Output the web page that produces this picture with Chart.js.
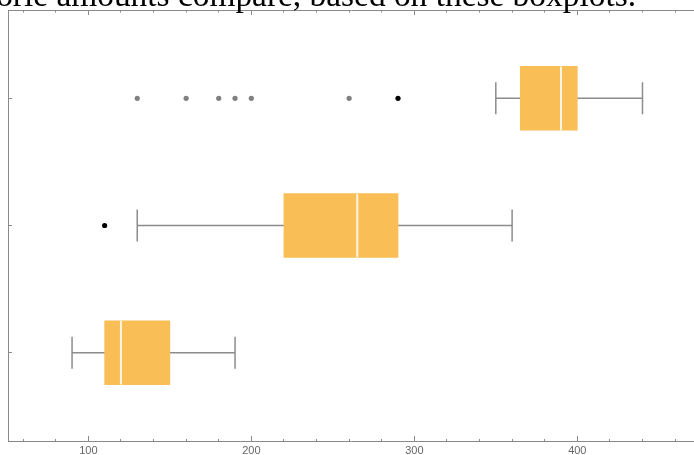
<!DOCTYPE html>
<html>
<head>
<meta charset="utf-8">
<script src="https://cdn.jsdelivr.net/npm/chart.js@4"></script>
<style>
  body { margin: 0; background: #fff; }
  #wrap { position: relative; width: 694px; height: 455px; overflow: hidden; }
  #chart { position: absolute; left: 0; top: 0; }
  #title {
    position: absolute; right: 58px; top: -22px; white-space: nowrap;
    font-family: "Liberation Serif", serif; font-size: 33.4px; line-height: 33.4px; color: #000;
  }
</style>
</head>
<body>
<div id="wrap">
  <canvas id="chart" width="694" height="455"></canvas>
  <div id="title">How do the calorie amounts compare, based on these boxplots.</div>
</div>
<script>
// one box per group, bottom to top
let groups = [1, 2, 3];
let whiskerLow = [90, 130, 350];
let q1 = [110, 220, 365];
let medians = [120, 265, 390];
let q3 = [150, 290, 400];
let whiskerHigh = [190, 360, 440];
let nearOutliers = [[], [110], [290]];
let farOutliers = [[], [], [130, 160, 180, 190, 200, 260]];
let xTickLabels = [100, 200, 300, 400];

let boxColor = "#f9be55";
let lineGray = "#8c8c8c";
let axisGray = "#8a8a8a";

function points(values) {
    let out = [];
    groups.forEach((g, i) => values[i].forEach(v => out.push({ x: v, y: g })));
    return out;
}

let datasets = [];

// boxes (q1..q3)
datasets.push({
    type: "bar",
    indexAxis: "y",
    data: groups.map((g, i) => ({ x: [q1[i], q3[i]], y: g })),
    backgroundColor: boxColor,
    borderWidth: 0,
    barThickness: 64,
    order: 2
});

// whisker lines, drawn under the boxes
groups.forEach((g, i) => {
    datasets.push({
        type: "line",
        data: [{ x: whiskerLow[i], y: g }, { x: whiskerHigh[i], y: g }],
        borderColor: lineGray,
        borderWidth: 1.5,
        pointRadius: 0,
        order: 3
    });
});

// whisker caps
datasets.push({
    type: "scatter",
    data: points(groups.map((g, i) => [whiskerLow[i], whiskerHigh[i]])),
    pointStyle: "line",
    pointRotation: 90,
    pointRadius: 16,
    pointBorderColor: lineGray,
    pointBorderWidth: 1.5,
    order: 3
});

// medians
datasets.push({
    type: "scatter",
    data: points(groups.map((g, i) => [medians[i]])),
    pointStyle: "line",
    pointRotation: 90,
    pointRadius: 31.8,
    pointBorderColor: "rgba(255,248,235,0.95)",
    pointBorderWidth: 2,
    order: 0
});

// outliers
datasets.push({
    type: "scatter",
    data: points(farOutliers),
    pointRadius: 2.6,
    pointBackgroundColor: "#808080",
    pointBorderWidth: 0,
    order: 0
});
datasets.push({
    type: "scatter",
    data: points(nearOutliers),
    pointRadius: 2.6,
    pointBackgroundColor: "#000",
    pointBorderWidth: 0,
    order: 0
});

function isMajor(ctx) {
    return ctx.tick && ctx.tick.value % 100 === 0;
}

let chart = new Chart(document.getElementById("chart"), {
    type: "scatter",
    data: { datasets: datasets },
    options: {
        responsive: false,
        animation: false,
        layout: { padding: 0, autoPadding: false },
        plugins: { legend: { display: false }, tooltip: { enabled: false } },
        scales: {
            x: {
                type: "linear",
                position: "bottom",
                min: 50.7,
                max: 471.6,
                afterFit: s => { s.height = 14; },
                ticks: {
                    stepSize: 20,
                    includeBounds: false,
                    autoSkip: false,
                    maxRotation: 0,
                    padding: 8,
                    color: "#666",
                    font: { family: "Liberation Sans", size: 11 },
                    callback: v => xTickLabels.includes(v) ? String(v) : ""
                },
                border: { color: axisGray, width: 1 },
                grid: {
                    drawOnChartArea: false,
                    tickLength: -5,
                    tickColor: axisGray,
                    tickWidth: 1,
                    tickBorderDash: ctx => isMajor(ctx) ? [] : [3, 20]
                }
            },
            x2: {
                type: "linear",
                position: "top",
                min: 50.7,
                max: 471.6,
                afterFit: s => { s.height = 10; },
                ticks: { stepSize: 20, includeBounds: false, autoSkip: false, display: false },
                border: { color: axisGray, width: 1 },
                grid: {
                    drawOnChartArea: false,
                    tickLength: -5,
                    tickColor: axisGray,
                    tickWidth: 1,
                    tickBorderDash: ctx => isMajor(ctx) ? [] : [3, 20],
                    tickBorderDashOffset: ctx => isMajor(ctx) ? 0 : 20.5
                }
            },
            y: {
                type: "linear",
                position: "left",
                min: 0.306,
                max: 3.694,
                offset: false,
                afterFit: s => { s.width = 8; },
                ticks: { display: false, stepSize: 1, includeBounds: false },
                border: { color: axisGray, width: 1 },
                grid: {
                    offset: false,
                    drawOnChartArea: false,
                    tickLength: -4,
                    tickColor: axisGray,
                    tickWidth: 1
                }
            }
        }
    }
});
</script>
</body>
</html>
